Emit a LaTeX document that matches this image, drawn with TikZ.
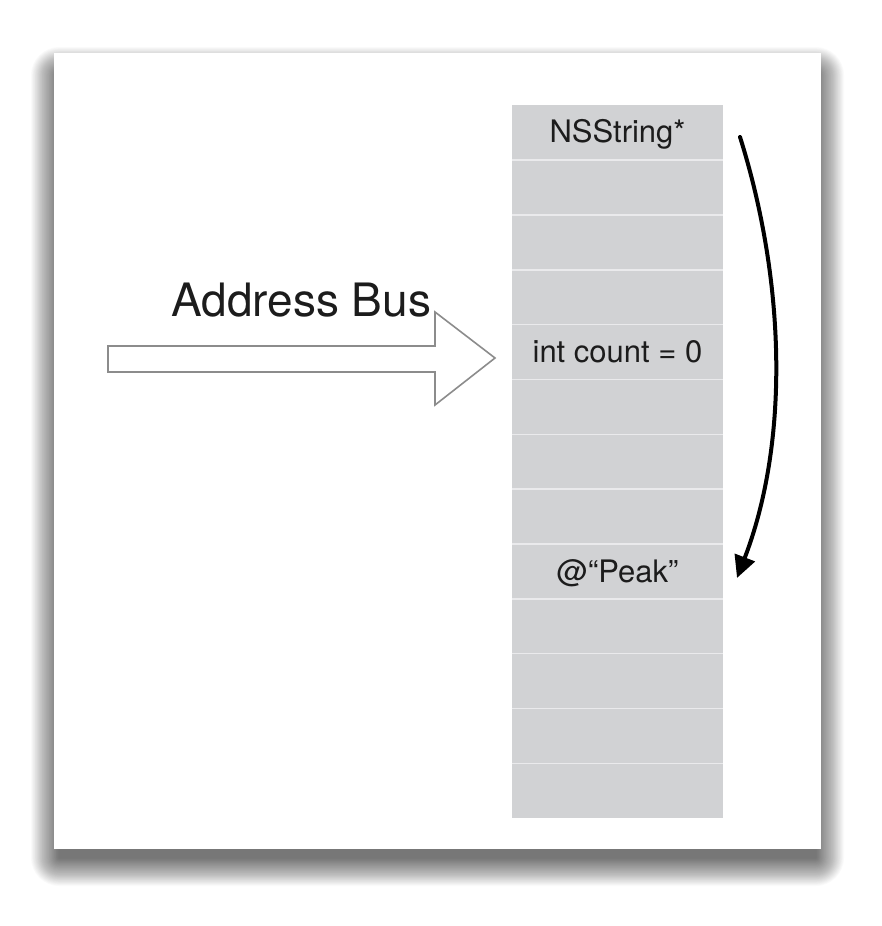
\documentclass[tikz,border=0pt]{standalone}
\usepackage{fontspec}
\setmainfont{TeX Gyre Heros}
\usetikzlibrary{arrows.meta}
\definecolor{cellgray}{HTML}{D1D2D4}
\definecolor{cellline}{HTML}{EAEAEC}
\definecolor{txt}{HTML}{1C1C1C}
\definecolor{busgray}{HTML}{8C8C8C}
\tikzset{
  card/.style={rectangle, fill=white, inner sep=0pt, minimum width=767pt, minimum height=796pt},
  shadowlayer/.style={fill=black, fill opacity=0.016},
  cell/.style={rectangle, fill=cellgray, inner sep=0pt, minimum width=211pt, minimum height=54.85pt},
  sep/.style={draw=cellline, line width=1.5pt},
  celltext/.style={anchor=base, text=txt, font=\fontsize{31}{36}\selectfont, inner sep=0pt},
  bustext/.style={anchor=base west, text=txt, font=\fontsize{46}{52}\selectfont, inner sep=0pt},
  busarrow/.style={draw=busgray, line width=1.6pt, fill=white, line join=miter},
  flow/.style={draw=black, line width=4pt, line cap=round, -{Triangle[length=22pt,width=21pt]}},
}
\begin{document}
\begin{tikzpicture}[x=1pt,y=-1pt]
\useasboundingbox (0,0) rectangle (882,926);
\fill[white] (0,0) rectangle (882,926);
% soft shadow of the card
\foreach \k in {0,...,40}{
  \pgfmathsetmacro{\e}{0.7*(40-\k)}
  \fill[shadowlayer, rounded corners={\e*1pt+0.1pt}] ({59-\e},{75-\e}) rectangle ({816+\e},{858+\e});
}
\node[card] (card) at (437.5,451) {};
% memory cells
\foreach \i in {0,...,12}{
  \node[cell] (c\i) at (617.5,{105+54.85*\i+27.425}) {};
}
\foreach \i in {0,...,11}{
  \draw[sep] (c\i.south west) -- (c\i.south east);
}
\node[celltext] (t0) at (617.5,142.5) {NSString*};
\node[celltext] (t4) at (617.5,362.5) {int count = 0};
\node[celltext] (t8) at (617.5,582.5) {@“Peak”};
% address bus arrow
\draw[busarrow] (108,346) -- (435,346) -- (435,312) -- (495,358) -- (435,405) -- (435,372) -- (108,372) -- cycle;
\node[bustext] (bus) at (171,316) {Address Bus};
% traversal arrow
\coordinate (cs) at (740,137);
\coordinate (ce) at (737,578);
\draw[flow] (cs) .. controls (785,280) and (790,440) .. (ce);
\end{tikzpicture}
\end{document}
